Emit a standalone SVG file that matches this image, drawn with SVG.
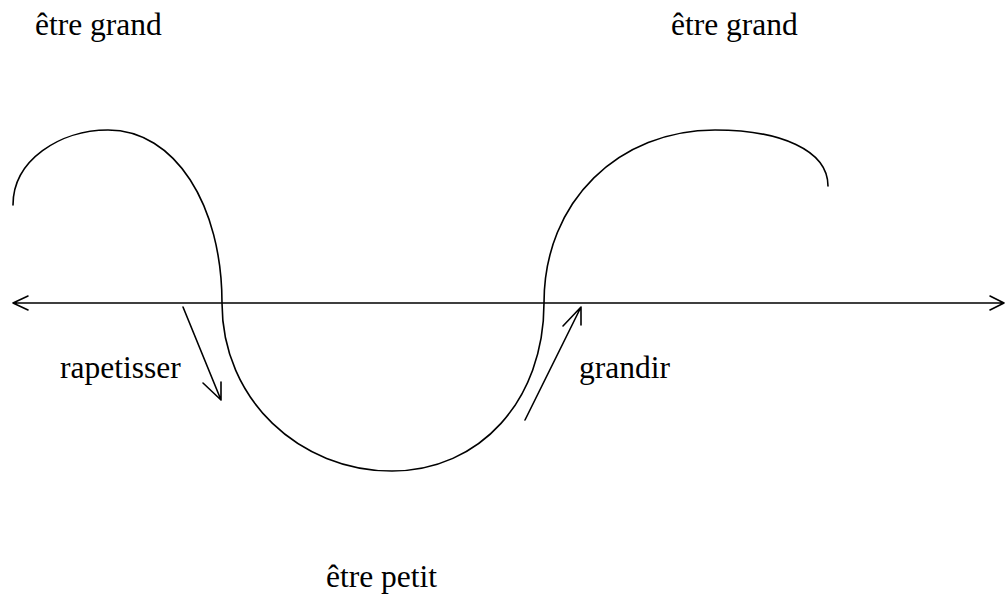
<svg xmlns="http://www.w3.org/2000/svg" width="1006" height="597" viewBox="0 0 1006 597">
<style>
.t{font-family:"Liberation Serif","Times New Roman",serif;font-size:31.5px;fill:#000}
.l{fill:none;stroke:#000;stroke-width:1.6;stroke-linecap:round;stroke-linejoin:round}
</style>
<rect width="1006" height="597" fill="#fff"/>
<g id="curve">
<path class="l" d="M13,205 C13,160 60,130 108,130 C175,130 222,205 222,303 C222,400 300,471 392,471 C480,471 544,400 544,303 C544,200 620,130 715,130 C780,130 828,150 828,186"/>
</g>
<g id="connectors">
<path class="l" d="M13,303 L1004,303 M28,296 L13,303 L28,310 M990,296 L1004,303 L990,310"/>
<path class="l" d="M183,307 L221,400 M203,383 L221,400 L221,382"/>
<path class="l" d="M525,420 L581,307 M563,326 L581,307 L581,325"/>
</g>
<g id="label-grand-left"><text class="t" x="35" y="35">être grand</text></g>
<g id="label-grand-right"><text class="t" x="671" y="35">être grand</text></g>
<g id="label-rapetisser"><text class="t" x="60" y="378">rapetisser</text></g>
<g id="label-grandir"><text class="t" x="579" y="378">grandir</text></g>
<g id="label-petit"><text class="t" x="326" y="587">être petit</text></g>
</svg>
